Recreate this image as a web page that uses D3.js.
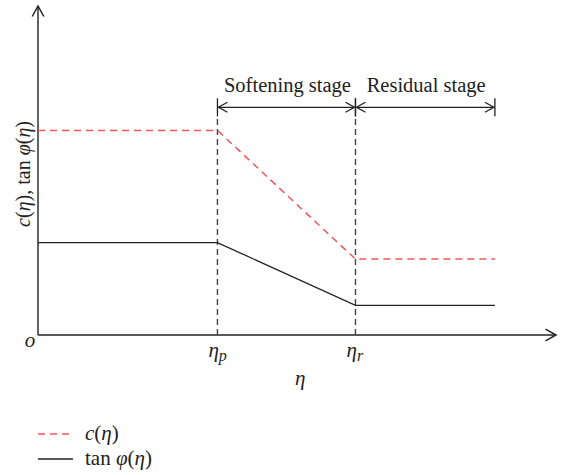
<!DOCTYPE html>
<html>
<head>
<meta charset="utf-8">
<script src="https://cdn.jsdelivr.net/npm/d3@7"></script>
<style>
  html, body { margin: 0; padding: 0; background: #fff; }
  svg text { font-family: "Liberation Serif", "DejaVu Serif", serif; fill: #222; }
</style>
</head>
<body>
<svg id="chart" width="562" height="475"></svg>
<script>
// Strain-softening parameter curve: peak, softening and residual stages
const etaKeys = [0, 1.3, 2.3, 3.31];          // origin, η_p, η_r, end of residual stage
const cValues = [6.2, 6.2, 2.3, 2.3];          // cohesion c(η)
const tanValues = [2.8, 2.8, 0.9, 0.9];        // friction tan φ(η)
const tickLabels = [{ v: 1.3, base: "η", sub: "p" }, { v: 2.3, base: "η", sub: "r" }];
const stages = [
  { name: "Softening stage", from: 1.3, to: 2.3 },
  { name: "Residual stage", from: 2.3, to: 3.31 }
];
const stageLevel = 6.9;

const svg = d3.select("#chart");
const x = d3.scaleLinear().domain([0, 3.76]).range([38, 557]);
const y = d3.scaleLinear().domain([0, 10]).range([335, 5]);

const ink = "#222";
const red = "#f2555a";

// arrow markers
const defs = svg.append("defs");
function openArrow(id, w, h) {
  defs.append("marker").attr("id", id)
    .attr("viewBox", "-10 -6 12 12").attr("refX", 0).attr("refY", 0)
    .attr("markerWidth", w).attr("markerHeight", h)
    .attr("markerUnits", "userSpaceOnUse").attr("orient", "auto")
    .append("path").attr("d", "M-9,-5 L0,0 L-9,5")
    .attr("fill", "none").attr("stroke", ink).attr("stroke-width", 1.3);
}
openArrow("axisArrow", 14, 14);
openArrow("stageArrow", 12, 12);
defs.append("marker").attr("id", "stageArrowStart")
  .attr("viewBox", "-2 -6 12 12").attr("refX", 0).attr("refY", 0)
  .attr("markerWidth", 12).attr("markerHeight", 12)
  .attr("markerUnits", "userSpaceOnUse").attr("orient", "auto")
  .append("path").attr("d", "M9,-5 L0,0 L9,5")
  .attr("fill", "none").attr("stroke", ink).attr("stroke-width", 1.3);

// axes
svg.append("line")
  .attr("x1", x(0)).attr("y1", y(0)).attr("x2", x(3.76) - 1).attr("y2", y(0))
  .attr("stroke", ink).attr("stroke-width", 1.4).attr("marker-end", "url(#axisArrow)");
svg.append("line")
  .attr("x1", x(0)).attr("y1", y(0)).attr("x2", x(0)).attr("y2", y(10) + 1)
  .attr("stroke", ink).attr("stroke-width", 1.4).attr("marker-end", "url(#axisArrow)");

// vertical guides at η_p and η_r
tickLabels.forEach(t => {
  svg.append("line")
    .attr("x1", x(t.v)).attr("x2", x(t.v))
    .attr("y1", y(0)).attr("y2", y(stageLevel) + 8)
    .attr("stroke", "#444").attr("stroke-width", 1.4)
    .attr("stroke-dasharray", "6,4");
});

// curves
const line = d3.line().x(d => x(d[0])).y(d => y(d[1]));
svg.append("path")
  .datum(etaKeys.map((k, i) => [k, tanValues[i]]))
  .attr("d", line).attr("fill", "none").attr("stroke", ink).attr("stroke-width", 1.3);
svg.append("path")
  .datum(etaKeys.map((k, i) => [k, cValues[i]]))
  .attr("d", line).attr("fill", "none").attr("stroke", red).attr("stroke-width", 1.5)
  .attr("stroke-dasharray", "7,5");

// stage brackets
stages.forEach(s => {
  const yy = y(stageLevel);
  svg.append("line")
    .attr("x1", x(s.from) + 1).attr("x2", x(s.to) - 1).attr("y1", yy).attr("y2", yy)
    .attr("stroke", ink).attr("stroke-width", 1.3)
    .attr("marker-start", "url(#stageArrowStart)").attr("marker-end", "url(#stageArrow)");
  [s.from, s.to].forEach(v => {
    svg.append("line").attr("x1", x(v)).attr("x2", x(v))
      .attr("y1", yy - 9).attr("y2", yy + 9)
      .attr("stroke", ink).attr("stroke-width", 1.3);
  });
  svg.append("text")
    .attr("x", (x(s.from) + x(s.to)) / 2 + 1).attr("y", yy - 15)
    .attr("text-anchor", "middle").attr("font-size", 20.5)
    .text(s.name);
});

// tick labels
tickLabels.forEach(t => {
  const tx = svg.append("text")
    .attr("x", x(t.v) - 9).attr("y", y(0) + 22)
    .attr("font-size", 21).attr("font-style", "italic");
  tx.append("tspan").text(t.base);
  tx.append("tspan").attr("dy", 4).attr("font-size", 16).text(t.sub);
});
svg.append("text").attr("x", 30).attr("y", y(0) + 12)
  .attr("font-size", 21).attr("font-style", "italic").attr("text-anchor", "middle").text("o");
svg.append("text").attr("x", x(1.9)).attr("y", y(0) + 50)
  .attr("font-size", 21).attr("font-style", "italic").attr("text-anchor", "middle").text("η");

// y-axis title
const yt = svg.append("text")
  .attr("transform", `translate(30,${y(4.88)}) rotate(-90)`)
  .attr("text-anchor", "middle").attr("font-size", 20);
yt.append("tspan").attr("font-style", "italic").text("c");
yt.append("tspan").text("(");
yt.append("tspan").attr("font-style", "italic").text("η");
yt.append("tspan").text("), tan ");
yt.append("tspan").attr("font-style", "italic").text("φ");
yt.append("tspan").text("(");
yt.append("tspan").attr("font-style", "italic").text("η");
yt.append("tspan").text(")");

// legend
const legend = [
  { color: red, dash: "7,5", parts: [["c", true], ["(", false], ["η", true], [")", false]] },
  { color: ink, dash: null, parts: [["tan ", false], ["φ", true], ["(", false], ["η", true], [")", false]] }
];
legend.forEach((l, i) => {
  const ly = 434 + i * 25;
  svg.append("line").attr("x1", 38).attr("x2", 73).attr("y1", ly).attr("y2", ly)
    .attr("stroke", l.color).attr("stroke-width", 1.5)
    .attr("stroke-dasharray", l.dash);
  const t = svg.append("text").attr("x", 85).attr("y", ly + 6).attr("font-size", 21);
  l.parts.forEach(p => t.append("tspan").attr("font-style", p[1] ? "italic" : null).text(p[0]));
});
</script>
</body>
</html>
